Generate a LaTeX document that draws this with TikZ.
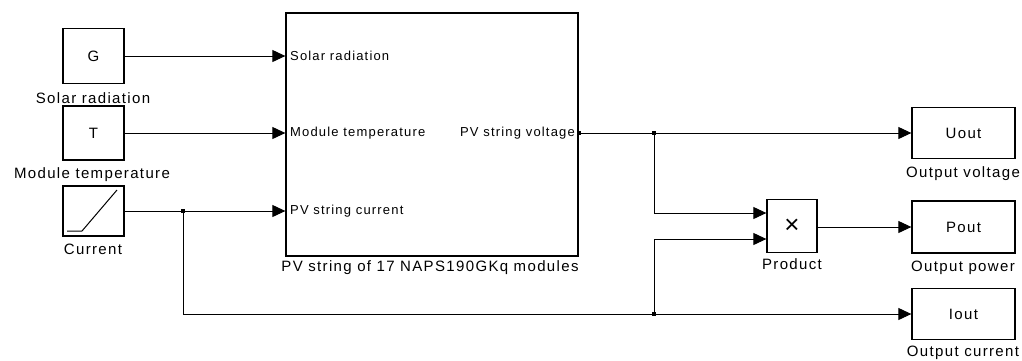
\documentclass[tikz,border=0pt]{standalone}
\usepackage{fontspec}
\setmainfont{Liberation Sans}[LetterSpace=9]
\usepackage{tikz}
\usetikzlibrary{arrows.meta,positioning,calc}

\begin{document}
\begin{tikzpicture}[x=1pt,y=-1pt,font=\fontsize{15}{17}\selectfont,
   b/.style={draw,line width=1.3pt,inner sep=0pt},
   port/.style={inner sep=2pt,font=\fontsize{13}{15}\selectfont},
   sig/.style={line width=1pt,-{Triangle[length=13pt,width=12pt]}},
   dot/.style={fill,inner sep=0pt,minimum size=4pt}]
  \useasboundingbox (0,0) rectangle (1022,360);
  % sources
  \node[b,minimum width=61pt,minimum height=55pt] (G) at (93.5,56) {G};
  \node[b,minimum width=61pt,minimum height=54pt] (T) at (93.5,133) {T};
  \node[b,minimum width=61pt,minimum height=50pt] (cur) at (93.5,211) {};
  \draw[line width=1pt] (67,231) -- (82,231) -- (117,190);
  \node at (93,98) {Solar radiation};
  \node at (92,175) {Module temperature};
  \node at (93,249) {Current};
  % PV string block
  \node[b,minimum width=292pt,minimum height=243pt] (pv) at (432,134.5) {};
  \node at (430,268) {PV string of 17 NAPS190GKq modules};
  \node[port,anchor=west] (inG) at (288,56) {Solar radiation};
  \node[port,anchor=west] (inT) at (288,133) {Module temperature};
  \node[port,anchor=west] (inI) at (288,211) {PV string current};
  \node[port,anchor=east,inner sep=1pt] (outU) at (576,133) {PV string voltage};
  % product and sinks
  \node[b,minimum width=50pt,minimum height=53pt,font=\fontsize{26}{26}\selectfont] (prod) at (792,226) {×};
  \node at (792,264) {Product};
  \node[b,minimum width=103pt,minimum height=51pt] (Uout) at (963.5,133) {Uout};
  \node[b,minimum width=103pt,minimum height=52pt] (Pout) at (963.5,227) {Pout};
  \node[b,minimum width=103pt,minimum height=51pt] (Iout) at (963.5,314) {Iout};
  \node at (963,174) {Output voltage};
  \node at (963,268) {Output power};
  \node at (963,353) {Output current};
  % connections
  \coordinate (vout) at (pv.east |- outU);
  \coordinate (j1) at (183,211);
  \coordinate (j2) at (654,133);
  \coordinate (j3) at (654,314);
  \coordinate (p1) at ([yshift=13pt]prod.west);
  \coordinate (p2) at ([yshift=-13pt]prod.west);
  \draw[sig] (G.east) -- (G.east -| pv.west);
  \draw[sig] (T.east) -- (T.east -| pv.west);
  \draw[sig] (cur.east) -- (cur.east -| pv.west);
  \draw[sig] (vout) -- (vout -| Uout.west);
  \draw[sig] (j1) |- (Iout.west);
  \draw[sig] (j2) |- (p1);
  \draw[sig] (j3) |- (p2);
  \draw[sig] (prod.east |- Pout.west) -- (Pout.west);
  \node[dot] at (vout) {};
  \node[dot] at (j1) {};
  \node[dot] at (j2) {};
  \node[dot] at (j3) {};
\end{tikzpicture}
\end{document}
